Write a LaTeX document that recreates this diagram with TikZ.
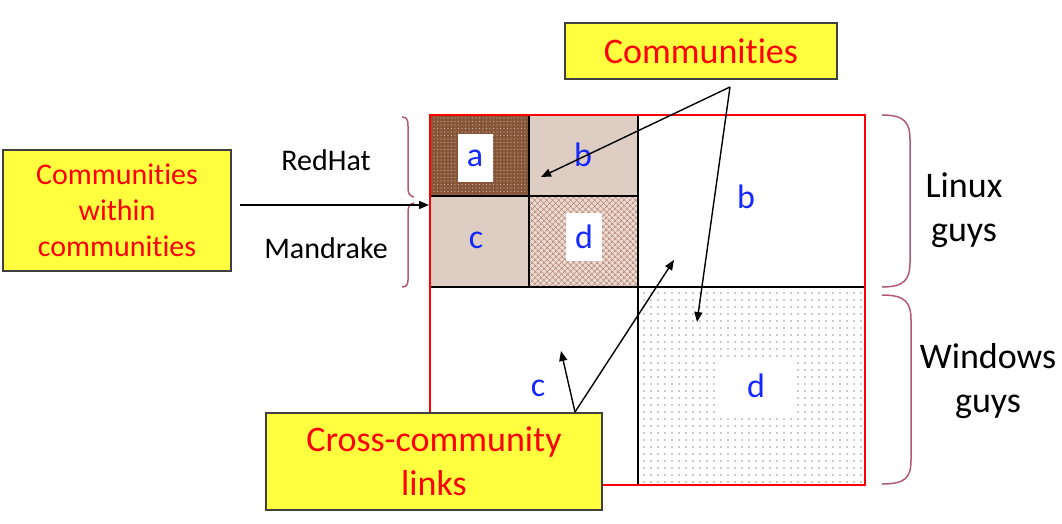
\documentclass[tikz,border=0pt]{standalone}
\usepackage{fontspec}
\setmainfont{Carlito}[Ligatures=NoCommon]
\usetikzlibrary{arrows.meta,patterns.meta}
\definecolor{ybox}{RGB}{255,255,64}
\definecolor{rtext}{RGB}{255,0,0}
\definecolor{bluel}{RGB}{20,40,255}
\definecolor{dbrown}{RGB}{135,85,55}
\definecolor{lbeige}{RGB}{222,205,195}
\definecolor{mbeige}{RGB}{236,218,208}
\definecolor{hbrown}{RGB}{185,140,125}
\definecolor{bracec}{RGB}{176,90,120}
\definecolor{dotc}{RGB}{140,148,168}
\begin{document}
\begin{tikzpicture}[x=1pt,y=-1pt,
 ybx/.style={draw=black!75, line width=1.5pt, fill=ybox, text=rtext, align=center, inner sep=0pt},
 lbl/.style={font=\fontsize{34}{34}\selectfont, text=bluel},
 wlbl/.style={lbl, fill=white, inner sep=0pt},
 side/.style={font=\fontsize{36}{44}\selectfont, align=center},
 smalltxt/.style={font=\fontsize{30}{30}\selectfont},
 brc/.style={draw=bracec, line width=1.5pt},
 arr/.style={-{Triangle[length=10pt,width=8pt]}, line width=1.4pt},
 blkline/.style={draw=black, line width=1.2pt}
]
\useasboundingbox (0,0) rectangle (1062,524);

% blocks
\fill[dbrown] (430,115) rectangle (529,196);
\fill[pattern={Dots[radius=0.7pt,distance=3.5pt]}, pattern color=dbrown!45!white] (430,115) rectangle (529,196);
\fill[lbeige] (529,115) rectangle (638,196);
\fill[lbeige] (430,196) rectangle (529,287);
\fill[mbeige] (529,196) rectangle (638,287);
\fill[pattern={Hatch[angle=45,distance=4pt,line width=0.7pt]}, pattern color=hbrown] (529,196) rectangle (638,287);
\fill[pattern={Dots[radius=0.95pt,distance=7pt]}, pattern color=dotc] (638,287) rectangle (865,485);
\fill[white] (718,358) rectangle (794,414);

% lines
\draw[blkline] (430,115) rectangle (638,287);
\draw[blkline] (529,115) -- (529,287);
\draw[blkline] (430,196) -- (638,196);
\draw[blkline] (638,115) -- (638,485);
\draw[blkline] (638,287) -- (865,287);
\draw[red, line width=2.5pt] (430,115) rectangle (865,485);

% block labels
\node[wlbl, minimum width=35pt, minimum height=48pt] (la) at (475,158) {a};
\node[lbl] (lb) at (583,155) {b};
\node[lbl] (lc) at (476,240) {c};
\node[wlbl, minimum width=36pt, minimum height=48pt] (ld) at (584,237) {d};
\node[lbl] (Lb) at (746,197) {b};
\node[lbl] (Lc) at (538,388) {c};
\node[lbl] (Ld) at (756,386) {d};

% side labels
\node[smalltxt] (rh) at (326,160) {RedHat};
\node[smalltxt] (mk) at (326,248) {Mandrake};
\node[side] (lx) at (964,210) {Linux\\guys};
\node[side] (wn) at (988,381) {Windows\\guys};

% braces
\draw[brc] (882,115) .. controls (904,115) and (910,122) .. (910,140) -- (910,262) .. controls (910,280) and (904,287) .. (882,287);
\draw[brc] (882,295) .. controls (905,295) and (911,302) .. (911,320) -- (911,460) .. controls (911,478) and (905,484) .. (882,484);
\draw[brc] (402,117) .. controls (407,117) and (408,120) .. (408,126) -- (408,188) .. controls (408,194) and (410,196) .. (414,197);
\draw[brc] (414,203) .. controls (410,204) and (408,206) .. (408,212) -- (408,280) .. controls (408,285) and (406,287) .. (402,287);

% yellow boxes
\node[ybx, minimum width=272pt, minimum height=56pt, font=\fontsize{36}{40}\selectfont] (comm) at (701,51) {Communities};
\node[ybx, minimum width=228pt, minimum height=121pt, font=\fontsize{30}{36}\selectfont] (cwc) at (117,210.5) {Communities\\within\\communities};
\node[ybx, minimum width=336pt, minimum height=97pt, font=\fontsize{36}{44}\selectfont] (ccl) at (434,461.5) {Cross-community\\links};

% arrows
\coordinate (cs) at (730,87);
\coordinate (tb) at (541,177);
\coordinate (td) at (697,322);
\draw[arr] (cs) -- (tb);
\draw[arr] (cs) -- (td);
\coordinate (cc) at (575,412);
\coordinate (tx) at (674,260);
\coordinate (ty) at (561,351);
\draw[arr] (cc) -- (tx);
\draw[arr] (cc) -- (ty);
\coordinate (ls) at (240,205);
\coordinate (le) at (429,205);
\draw[arr] (ls) -- (le);
\end{tikzpicture}
\end{document}
